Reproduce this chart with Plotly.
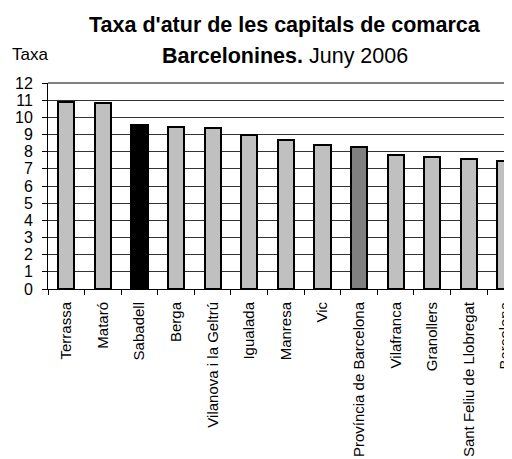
import plotly.graph_objects as go

categories = ["Terrassa", "Mataró", "Sabadell", "Berga", "Vilanova i la Geltrú",
              "Igualada", "Manresa", "Vic", "Província de Barcelona", "Vilafranca",
              "Granollers", "Sant Feliu de Llobregat", "Barcelona"]
values = [10.92, 10.84, 9.57, 9.43, 9.38, 8.96, 8.69, 8.38, 8.27, 7.82, 7.69, 7.58, 7.43]
bar_colors = ["#C0C0C0", "#C0C0C0", "#000000", "#C0C0C0", "#C0C0C0", "#C0C0C0",
              "#C0C0C0", "#C0C0C0", "#808080", "#C0C0C0", "#C0C0C0", "#C0C0C0", "#C0C0C0"]
y_ticks = list(range(0, 13))

FONT = "Arial, Liberation Sans, sans-serif"

fig = go.Figure(go.Bar(
    x=categories, y=values, width=0.44,
    marker=dict(color=bar_colors, line=dict(color="#000000", width=2)),
))

# page has an 8px body margin; compensate so the figure fills the window
OFF = 8
W, H = 512 - OFF, 459 - OFF
top_pix, bot_pix, left_pix = 83, 289, 48
mt = top_pix - OFF
ml = left_pix - OFF
ph = bot_pix - top_pix
mb = H - mt - ph
mr = 0
pw = W - ml - mr

def py(ypix):
    return (bot_pix - ypix) / ph

def px(xpix):
    return (xpix - left_pix) / pw

fig.update_layout(
    width=W, height=H,
    margin=dict(t=mt, b=mb, l=ml, r=mr, pad=0, autoexpand=False),
    paper_bgcolor="white", plot_bgcolor="white",
    font=dict(family=FONT, color="black"),
    showlegend=False,
    bargap=0,
)

fig.update_xaxes(
    type="category", range=[-0.5, 12.18], automargin=False,
    showline=True, linecolor="black", linewidth=1,
    ticks="outside", ticklen=5, tickcolor="black", tickson="boundaries",
    tickangle=-90, tickfont=dict(size=15, family=FONT), ticklabelstandoff=6,
    ticklabeloverflow="allow",
    showgrid=False,
)
fig.update_yaxes(
    range=[0, 12], tickvals=y_ticks, automargin=False,
    showline=True, linecolor="black", linewidth=1,
    ticks="outside", ticklen=5, tickcolor="black",
    tickfont=dict(size=16, family=FONT), ticklabelstandoff=6,
    showgrid=True, gridcolor="#333333", gridwidth=1, zeroline=False,
)

fig.add_shape(type="line", xref="paper", yref="paper", x0=0, x1=1, y0=1, y1=1,
              line=dict(color="#808080", width=2))

fig.add_annotation(text="<b>Taxa d'atur de les capitals de comarca</b>",
                   xref="paper", yref="paper", x=px(285), y=py(11),
                   xanchor="center", yanchor="top", showarrow=False,
                   font=dict(size=21.5, family=FONT))
fig.add_annotation(text="<b>Barcelonines.</b> Juny 2006",
                   xref="paper", yref="paper", x=px(285), y=py(42),
                   xanchor="center", yanchor="top", showarrow=False,
                   font=dict(size=21.5, family=FONT))
fig.add_annotation(text="Taxa",
                   xref="paper", yref="paper", x=px(10), y=py(43),
                   xanchor="left", yanchor="top", showarrow=False,
                   font=dict(size=17, family=FONT))

fig.write_html("out.html")
